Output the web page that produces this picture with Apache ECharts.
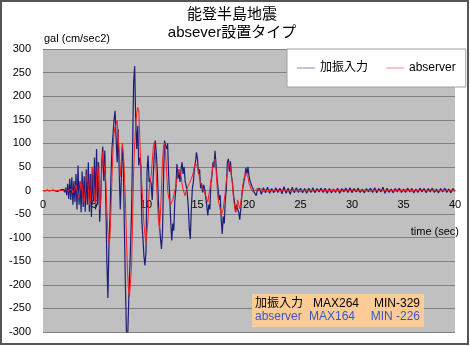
<!DOCTYPE html>
<html><head><meta charset="utf-8">
<script src="https://cdn.jsdelivr.net/npm/echarts@6/dist/echarts.min.js"></script>
<style>html,body{margin:0;padding:0;background:#fff}#c{width:470px;height:346px}</style>
</head><body><div id="c"></div>
<script>
// ---- chart texts ----
const titleLines = ['能登半島地震', 'absever設置タイプ'];
const yUnitLabel = 'gal (cm/sec2)';
const xUnitLabel = 'time (sec)';
const seriesNames = ['加振入力', 'abserver'];
const summaryNames = ['加振入力', 'abserver'];
const summaryMax = ['MAX264', 'MAX164'];
const summaryMin = ['MIN-329', 'MIN -226'];

// ---- axis ranges ----
const xMin = 0, xMax = 40, xStep = 5;
const yMin = -300, yMax = 300, yStep = 50;

// ---- sampling grid (seconds) ----
const activeStart = 0.0, activeStep = 0.1;   // 0.0 .. 21.0 s
const tailStart = 21.2, tailStep = 0.2;      // 21.2 .. 40.0 s

// ---- 加振入力 (input) acceleration, gal ----
const inputActive = [
  0, 1, -1, 0, 1, 0, -1, 1, 0, -1,
  1, 0, -1, 1, -2, 1, 0, -1, 2, -1,
  2, -4, 6, -10, 14, -18, 25, -20, 28, -30,
  20, -25, 35, -40, 53, -30, 20, -46, 40, -35,
  30, -45, 45, -30, 60, -45, 35, -56, 50, -20,
  70, -40, 88, -30, 60, -66, -20, 60, 93, 20,
  85, -20, -150, -228, -120, -60, 30, 90, 120, 150,
  169, 110, 60, 130, 40, -40, 20, 93, 60, -80,
  -200, -300, -329, -250, -180, -120, -40, 90, 230, 264,
  150, 88, 137, 53, 70, 53, -67, -100, -140, -159,
  -130, 40, 74, 18, 25, 14, -20, 30, 74, 106,
  80, 40, -20, -70, -100, -124, -90, 20, 106, 95,
  88, 100, 31, -10, -67, -106, -70, -85, -20, 3,
  56, 25, 40, 18, 45, 60, 35, 50, 20, 10,
  -5, -32, -80, -103, -40, 5, 18, 45, 60, 81,
  67, 35, 45, 5, 15, -4, 12, 3, -15, -32,
  -53, -30, -40, 15, 31, 60, 50, 84, 55, 25,
  3, -20, -10, -60, -92, -55, -70, -20, 3, 60,
  67, 40, 62, 30, 17, -10, -25, -46, -30, -40,
  -46, -62, -40, -11, 5, 18, 30, 48, 35, 50,
  31, 20, 17, 8, 3, -4, -8, -11, 0, -4,
  5
];
const inputTail = [
  -8, 6, -5, 7, -6, 4, -5, 6, -4, 5,
  -7, 8, -6, 5, -8, 7, -5, 6, -4, 5,
  -5, 4, -6, 5, -4, 6, -5, 4, -3, 5,
  -4, 5, -6, 4, -5, 3, -4, 5, -6, 4,
  -3, 5, -4, 6, -5, 4, -3, 5, -4, 3,
  -5, 4, -3, 5, -4, 6, -5, 4, -3, 7,
  -6, 5, -4, 3, -5, 4, -3, 5, -4, 3,
  -4, 5, -3, 4, -5, 3, -4, 5, -3, 4,
  -5, 4, -3, 5, -4, 3, -5, 4, -3, 5,
  -4, 3, -5, 4, -2
];

// ---- abserver acceleration, gal ----
const observerActive = [
  0, 0, 0, 0, 0, 0, 0, 0, 0, 0,
  0, 0, 0, 0, 0, 0, 0, 1, 0, -1,
  0, 1, 3, 1, -2, -3, 2, 6, 3, -5,
  -8, 2, 12, 8, -10, -15, 5, 20, 10, -18,
  -25, 0, 30, 35, 5, -30, -20, 25, 50, 20,
  -20, -30, 20, 60, 30, -40, -20, 40, 82, 60,
  60, 20, -40, -90, -111, -100, -40, 30, 90, 120,
  135, 140, 148, 146, 80, 30, 60, 100, 80, 40,
  -20, -100, -170, -210, -225, -226, -160, -60, 40, 100,
  140, 165, 176, 170, 110, 53, 10, -30, -70, -95,
  -110, -112, -60, 0, 20, 30, 60, 90, 102, 80,
  30, -20, -60, -82, -50, 0, 60, 95, 100, 80,
  40, 0, -15, -24, -30, -28, -20, -10, 0, 10,
  25, 38, 45, 40, 31, 15, 3, -5, -11, 0,
  5, 10, 15, 17, 25, 31, 40, 52, 58, 60,
  50, 40, 24, 15, 10, 5, 0, -5, -11, -15,
  -25, -10, 3, 20, 35, 52, 62, 67, 45, 10,
  -18, -30, -39, -53, -50, -39, -20, -4, 20, 38,
  60, 58, 50, 30, 10, -18, -35, -46, -39, -20,
  -30, -39, -25, -10, 10, 25, 31, 38, 35, 28,
  15, 10, 3, 0, -4, -3, 0, 3, 5, 0,
  -3
];
const observerTail = [
  4, -3, 2, -2, 3, -2, 1, -2, 2, -1,
  2, -1, 1, -2, 2, -1, 1, -1, 2, -2,
  1, -1, 2, -1, 1, -2, 1, -1, 2, -1,
  1, -2, 1, -1, 2, -1, 1, -1, 1, -2,
  2, -1, 1, -1, 2, -1, 1, -2, 1, -1,
  1, -1, 2, -2, 1, -1, 1, -1, 2, -1,
  1, -2, 1, -1, 1, -1, 2, -1, 1, -1,
  2, -1, 1, -2, 1, -1, 1, -1, 2, -1,
  1, -1, 2, -1, 1, -2, 1, -1, 1, -1,
  2, -1, 1, -1, 0
];

function pairs(start, step, values) {
  return values.map((v, i) => [Math.round((start + i * step) * 100) / 100, v]);
}
const inputData = pairs(activeStart, activeStep, inputActive).concat(pairs(tailStart, tailStep, inputTail));
const observerData = pairs(activeStart, activeStep, observerActive).concat(pairs(tailStart, tailStep, observerTail));

const FONT = "'Liberation Sans', 'Noto Sans CJK JP', sans-serif";
const chart = echarts.init(document.getElementById('c'), null, {renderer: 'canvas'});

const gridTop = 49, gridHeight = 283;
// move the x axis up from the grid bottom to the value 0 line
const zeroOffset = -gridHeight * (0 - yMin) / (yMax - yMin);

const summaryGraphics = [];
summaryGraphics.push({type: 'rect', shape: {x: 252, y: 294, width: 172, height: 33}, style: {fill: '#fccb98'}, z: 10});
const rowColors = ['#000000', '#3a56c4'];
const rowY = [303.5, 317];
for (let r = 0; r < 2; r++) {
  summaryGraphics.push({type: 'text', x: 255, y: rowY[r], z: 11, style: {text: summaryNames[r], fill: rowColors[r], font: '12px ' + FONT, textVerticalAlign: 'middle'}});
  summaryGraphics.push({type: 'text', x: r === 0 ? 313 : 309, y: rowY[r], z: 11, style: {text: summaryMax[r], fill: rowColors[r], font: '12px ' + FONT, textVerticalAlign: 'middle'}});
  summaryGraphics.push({type: 'text', x: 420, y: rowY[r], z: 11, style: {text: summaryMin[r], fill: rowColors[r], font: '12px ' + FONT, textAlign: 'right', textVerticalAlign: 'middle'}});
}

chart.setOption({
  animation: false,
  backgroundColor: '#ffffff',
  grid: {left: 43, top: gridTop, width: 412, height: gridHeight, show: true, backgroundColor: '#c0c0c0', borderWidth: 0},
  legend: {
    left: 287, top: 49, orient: 'horizontal',
    padding: [13, 10, 13, 10], itemGap: 18, itemWidth: 18, itemHeight: 1,
    backgroundColor: '#ffffff', borderColor: '#a0a0a0', borderWidth: 1,
    textStyle: {fontSize: 12, color: '#000', fontFamily: FONT},
    data: [
      {name: seriesNames[0], icon: 'rect', itemStyle: {color: '#8585c0'}},
      {name: seriesNames[1], icon: 'rect', itemStyle: {color: '#f08888'}}
    ]
  },
  xAxis: {
    type: 'value', min: xMin, max: xMax, interval: xStep,
    position: 'bottom', offset: zeroOffset,
    axisLine: {show: true, onZero: false, lineStyle: {color: '#808080', width: 1}},
    axisTick: {show: false},
    splitLine: {show: false},
    axisLabel: {color: '#000', fontSize: 11, fontFamily: FONT, margin: 9}
  },
  yAxis: {
    type: 'value', min: yMin, max: yMax, interval: yStep,
    axisLine: {show: false}, axisTick: {show: false},
    splitLine: {show: true, lineStyle: {color: '#808080', width: 1}},
    axisLabel: {color: '#000', fontSize: 11, fontFamily: FONT, margin: 12}
  },
  series: [
    {name: seriesNames[0], type: 'line', data: inputData, symbol: 'none', clip: true,
     lineStyle: {color: '#1c1c7a', width: 1.2}, itemStyle: {color: '#1c1c7a'}, z: 2},
    {name: seriesNames[1], type: 'line', data: observerData, symbol: 'none', clip: true,
     lineStyle: {color: '#ff1c1c', width: 1}, itemStyle: {color: '#ff1c1c'}, z: 3}
  ],
  graphic: [
    {type: 'rect', shape: {x: 1, y: 1, width: 467, height: 343}, style: {fill: 'none', stroke: '#555555', lineWidth: 2}, z: 20},
    {type: 'text', x: 232, y: 15, style: {text: titleLines[0], fill: '#000', font: '15px ' + FONT, textAlign: 'center', textVerticalAlign: 'middle'}},
    {type: 'text', x: 232, y: 33, style: {text: titleLines[1], fill: '#000', font: '15px ' + FONT, textAlign: 'center', textVerticalAlign: 'middle'}},
    {type: 'text', x: 44, y: 39, style: {text: yUnitLabel, fill: '#000', font: '11px ' + FONT, textVerticalAlign: 'middle'}},
    {type: 'text', x: 459, y: 232, style: {text: xUnitLabel, fill: '#000', font: '11px ' + FONT, textAlign: 'right', textVerticalAlign: 'middle'}, z: 10}
  ].concat(summaryGraphics)
});
</script>
</body></html>
